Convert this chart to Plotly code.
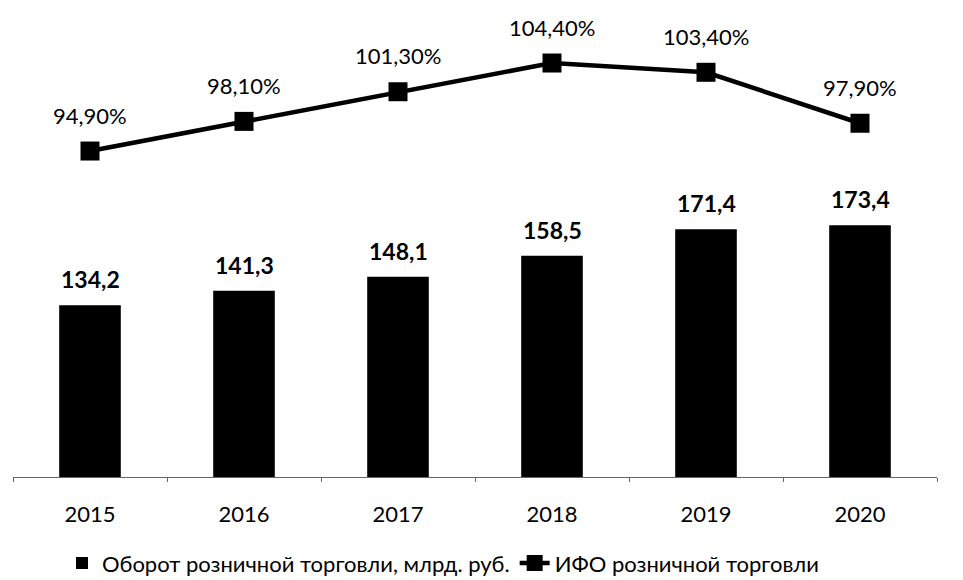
import plotly.graph_objects as go

years = [2015, 2016, 2017, 2018, 2019, 2020]
turnover = [134.2, 141.3, 148.1, 158.5, 171.4, 173.4]
ifo = [94.9, 98.1, 101.3, 104.4, 103.4, 97.9]

turnover_labels = ['134,2', '141,3', '148,1', '158,5', '171,4', '173,4']
ifo_labels = ['94,90%', '98,10%', '101,30%', '104,40%', '103,40%', '97,90%']

FONT = 'Lato, Noto Sans, sans-serif'
AXIS_MIN = 50

fig = go.Figure()

# bars start at the axis minimum (as in the source chart)
fig.add_trace(go.Bar(
    x=years, y=[v - AXIS_MIN for v in turnover], base=AXIS_MIN,
    name='Оборот розничной торговли, млрд. руб.',
    marker=dict(color='black', line=dict(width=0)),
    width=0.4, yaxis='y',
))

fig.add_trace(go.Scatter(
    x=years, y=ifo, name='ИФО розничной торговли',
    mode='lines+markers', yaxis='y2',
    line=dict(color='black', width=4.5),
    marker=dict(symbol='square', size=19, color='black'),
))

annotations = []
for yr, v, t in zip(years, turnover, turnover_labels):
    annotations.append(dict(x=yr, y=v, xref='x', yref='y', text='<b>' + t + '</b>',
                            showarrow=False, yshift=26,
                            font=dict(size=23, color='black', family=FONT)))
for yr, v, t in zip(years, ifo, ifo_labels):
    annotations.append(dict(x=yr, y=v, xref='x', yref='y2', text=t,
                            showarrow=False, yshift=36,
                            font=dict(size=22, color='black', family=FONT)))

# small tick marks between the years
boundaries = [years[0] - 0.5] + [y + 0.5 for y in years]

fig.update_layout(
    width=955, height=572,
    margin=dict(l=5, r=26, t=0, b=103, autoexpand=False),
    paper_bgcolor='white', plot_bgcolor='white',
    font=dict(family=FONT, color='black', size=22),
    showlegend=True,
    legend=dict(orientation='h', x=(62 - 13) / 924, xanchor='left',
                y=-0.184, yanchor='middle',
                font=dict(size=22), itemwidth=30, tracegroupgap=0),
    xaxis=dict(range=[years[0] - 0.5, years[-1] + 0.5], tickmode='array',
               tickvals=years, ticktext=[str(y) for y in years],
               showline=True, linecolor='#666', linewidth=1,
               ticks='', showgrid=False, zeroline=False,
               ticklabelstandoff=18, tickfont=dict(size=22),
               minor=dict(tickmode='array', tickvals=boundaries, ticks='outside',
                          ticklen=4, tickcolor='#666', showgrid=False)),
    yaxis=dict(range=[AXIS_MIN, 279.9], visible=False),
    yaxis2=dict(range=[59.71, 110.34], overlaying='y', visible=False),
    annotations=annotations,
)

fig.write_html('out.html')
